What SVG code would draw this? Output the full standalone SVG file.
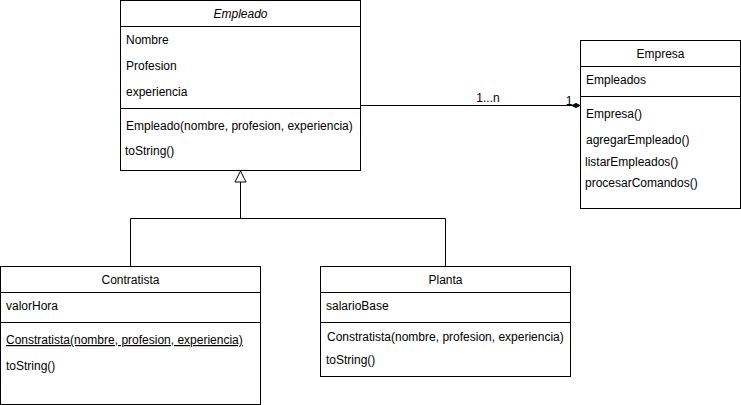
<svg xmlns="http://www.w3.org/2000/svg" width="741" height="405" viewBox="0 0 741 405">
<defs>
<style>
.box{fill:#fff;stroke:#000;stroke-width:1}
.ln{fill:none;stroke:#000;stroke-width:1}
text{font-family:"Liberation Sans",Arial,sans-serif;font-size:12px;fill:#000}
.c{text-anchor:middle}
</style>
<marker id="diamond" markerWidth="10" markerHeight="8" refX="9" refY="4" orient="auto" markerUnits="userSpaceOnUse">
<path d="M1,4 L5,2 L9,4 L5,6 Z" fill="#000" stroke="#000"/>
</marker>
<marker id="inherit" markerWidth="14" markerHeight="14" refX="7" refY="1" orient="0" markerUnits="userSpaceOnUse">
<path d="M7,1 L12.5,11.5 L1.5,11.5 Z" fill="#fff" stroke="#000"/>
</marker>
</defs>
<g id="connectors">
<path class="ln" d="M360.5,105.5 H580" marker-end="url(#diamond)"/>
<text x="488" y="102" class="c">1...n</text>
<text x="569" y="105" class="c">1</text>
<path class="ln" d="M130.5,266 V218.5 H445.5 V266"/>
<path class="ln" d="M240.5,218.5 V182"/>
<path d="M240.5,171 L246,182 L235,182 Z" fill="#fff" stroke="#000"/>
</g>
<g id="Empleado">
<rect class="box" x="120.5" y="0.5" width="240" height="170"/>
<path class="ln" d="M120.5,26.5 H360.5 M120.5,108.5 H360.5"/>
<text x="240.5" y="18" class="c" font-style="italic">Empleado</text>
<text x="126" y="44">Nombre</text>
<text x="126" y="70">Profesion</text>
<text x="126" y="96">experiencia</text>
<text x="126" y="130">Empleado(nombre, profesion, experiencia)</text>
<text x="125" y="155">toString()</text>
</g>
<g id="Empresa">
<rect class="box" x="580.5" y="40.5" width="160" height="168"/>
<path class="ln" d="M580.5,66.5 H740.5 M580.5,96.5 H740.5"/>
<text x="660.5" y="58" class="c">Empresa</text>
<text x="586" y="84">Empleados</text>
<text x="586" y="118">Empresa()</text>
<text x="586" y="144">agregarEmpleado()</text>
<text x="585" y="166">listarEmpleados()</text>
<text x="585" y="187">procesarComandos()</text>
</g>
<g id="Contratista">
<rect class="box" x="0.5" y="266.5" width="260" height="138"/>
<path class="ln" d="M0.5,292.5 H260.5 M0.5,322.5 H260.5"/>
<text x="130.5" y="284" class="c">Contratista</text>
<text x="6" y="310">valorHora</text>
<text x="6" y="344" text-decoration="underline">Constratista(nombre, profesion, experiencia)</text>
<text x="6" y="370">toString()</text>
</g>
<g id="Planta">
<rect class="box" x="320.5" y="266.5" width="250" height="110"/>
<path class="ln" d="M320.5,292.5 H570.5 M320.5,322.5 H570.5"/>
<text x="445.5" y="284" class="c">Planta</text>
<text x="326" y="310">salarioBase</text>
<text x="327" y="341">Constratista(nombre, profesion, experiencia)</text>
<text x="326" y="364">toString()</text>
</g>
</svg>
